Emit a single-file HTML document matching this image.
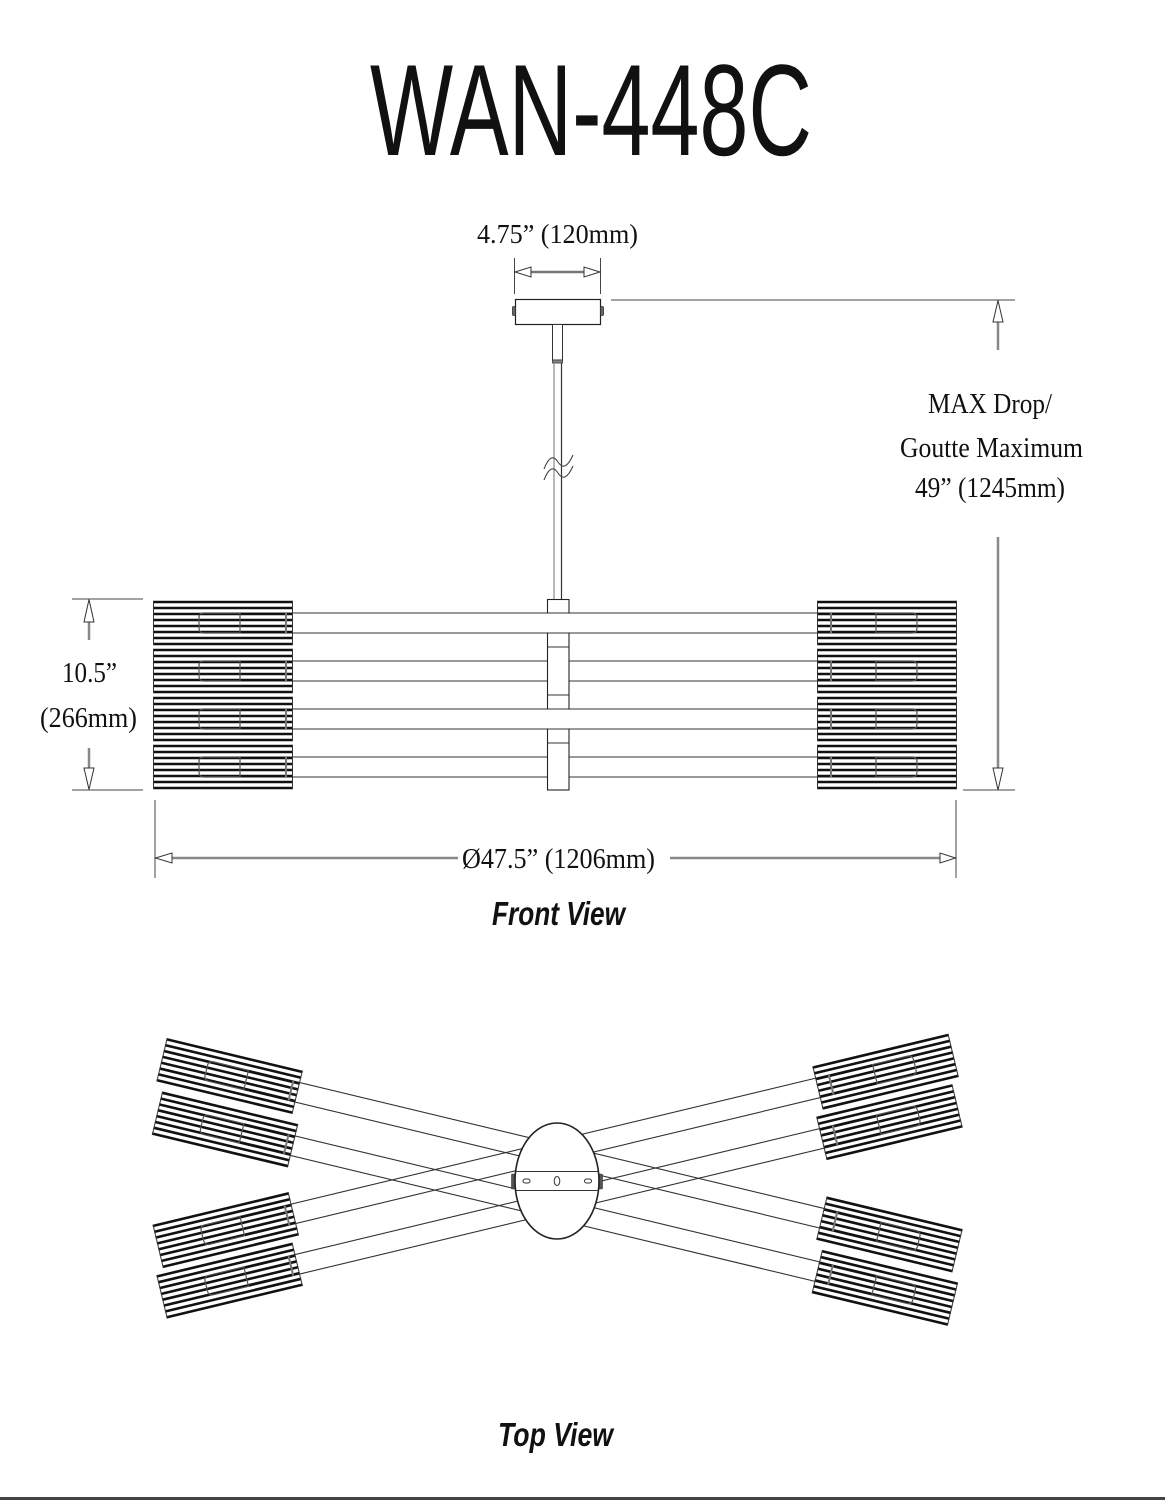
<!DOCTYPE html>
<html><head><meta charset="utf-8"><style>
html,body{margin:0;padding:0;background:#fff;}
svg{display:block;}
.serif{font-family:"Liberation Serif","Times New Roman",serif;fill:#111;}
.sans{font-family:"Liberation Sans",Arial,sans-serif;fill:#111;}
</style></head><body>
<svg width="1165" height="1500" viewBox="0 0 1165 1500" xmlns="http://www.w3.org/2000/svg">
<defs>
  <g id="sl" stroke="#111" stroke-width="2.6">
    <line x1="0" y1="1" x2="140" y2="1"/>
    <line x1="0" y1="7" x2="140" y2="7"/>
    <line x1="0" y1="13" x2="140" y2="13"/>
    <line x1="0" y1="19" x2="140" y2="19"/>
    <line x1="0" y1="25" x2="140" y2="25"/>
    <line x1="0" y1="31" x2="140" y2="31"/>
    <line x1="0" y1="37" x2="140" y2="37"/>
    <line x1="0" y1="43" x2="140" y2="43"/>
  </g>
  <g id="shL">
    <use href="#sl"/>
    <path d="M0.5,0 V44 M139.5,0 V44" stroke="#333" stroke-width="1" fill="none"/>
    <path d="M87,12 H51 Q46,12 46,17 V27 Q46,32 51,32 H87 Z" fill="none" stroke="#555" stroke-width="1.2"/>
    <line x1="133" y1="12" x2="133" y2="32" stroke="#777" stroke-width="2"/>
  </g>
  <g id="shR">
    <use href="#sl"/>
    <path d="M0.5,0 V44 M139.5,0 V44" stroke="#333" stroke-width="1" fill="none"/>
    <path d="M59,12 H95 Q100,12 100,17 V27 Q100,32 95,32 H59 Z" fill="none" stroke="#555" stroke-width="1.2"/>
    <line x1="14" y1="12" x2="14" y2="32" stroke="#777" stroke-width="2"/>
  </g>
</defs>

<!-- Title -->
<text class="sans" x="370" y="155" font-size="130" textLength="442" lengthAdjust="spacingAndGlyphs">WAN-448C</text>

<!-- Top dimension 4.75 -->
<text class="serif" x="477" y="243" font-size="27" textLength="161" lengthAdjust="spacingAndGlyphs">4.75” (120mm)</text>
<g stroke="#444" stroke-width="1">
  <line x1="514.5" y1="258" x2="514.5" y2="294"/>
  <line x1="600.5" y1="258" x2="600.5" y2="294"/>
</g>
<line x1="530" y1="272" x2="585" y2="272" stroke="#777" stroke-width="2.5"/>
<polygon points="515,272 531,267 531,277" fill="#fff" stroke="#333" stroke-width="1"/>
<polygon points="600,272 584,267 584,277" fill="#fff" stroke="#333" stroke-width="1"/>

<!-- Canopy & stem -->
<rect x="515.5" y="299.5" width="85" height="25" fill="#fff" stroke="#222" stroke-width="1.2"/>
<rect x="512.5" y="306.5" width="3" height="9" rx="1" fill="#666" stroke="#333" stroke-width="0.8"/>
<rect x="600.5" y="306.5" width="3" height="9" rx="1" fill="#666" stroke="#333" stroke-width="0.8"/>
<rect x="552.5" y="324.5" width="10" height="35.5" fill="#fff" stroke="#333" stroke-width="1"/>
<rect x="552.5" y="360" width="10" height="3" fill="#888" stroke="#333" stroke-width="0.8"/>
<line x1="554" y1="363" x2="554" y2="599" stroke="#888" stroke-width="1.2"/>
<line x1="561.5" y1="363" x2="561.5" y2="599" stroke="#333" stroke-width="1.2"/>
<path d="M544,469 Q551,451 558,462 T573,455" fill="none" stroke="#444" stroke-width="1.1"/>
<path d="M544,480 Q551,462 558,473 T573,466" fill="none" stroke="#444" stroke-width="1.1"/>

<!-- Right MAX drop dimension -->
<line x1="611" y1="300" x2="1015" y2="300" stroke="#444" stroke-width="1"/>
<line x1="998" y1="322" x2="998" y2="350" stroke="#888" stroke-width="2.5"/>
<polygon points="998,300.5 993,322 1003,322" fill="#fff" stroke="#333" stroke-width="1"/>
<line x1="998" y1="537" x2="998" y2="768" stroke="#888" stroke-width="2.5"/>
<polygon points="998,790 993,768 1003,768" fill="#fff" stroke="#333" stroke-width="1"/>
<line x1="963" y1="790" x2="1015" y2="790" stroke="#444" stroke-width="1"/>
<text class="serif" x="928" y="413" font-size="28" textLength="124" lengthAdjust="spacingAndGlyphs">MAX Drop/</text>
<text class="serif" x="900" y="457" font-size="28" textLength="183" lengthAdjust="spacingAndGlyphs">Goutte Maximum</text>
<text class="serif" x="915" y="497" font-size="28" textLength="150" lengthAdjust="spacingAndGlyphs">49” (1245mm)</text>

<!-- Left 10.5 dimension -->
<g stroke="#444" stroke-width="1">
  <line x1="72" y1="599" x2="143" y2="599"/>
  <line x1="72" y1="790" x2="143" y2="790"/>
</g>
<line x1="89" y1="622" x2="89" y2="640" stroke="#888" stroke-width="2.5"/>
<polygon points="89,599.5 84,622 94,622" fill="#fff" stroke="#333" stroke-width="1"/>
<line x1="89" y1="748" x2="89" y2="768" stroke="#888" stroke-width="2.5"/>
<polygon points="89,789.5 84,768 94,768" fill="#fff" stroke="#333" stroke-width="1"/>
<text class="serif" x="62" y="682" font-size="28" textLength="55" lengthAdjust="spacingAndGlyphs">10.5”</text>
<text class="serif" x="40" y="727" font-size="28" textLength="97" lengthAdjust="spacingAndGlyphs">(266mm)</text>

<!-- Front view arms 2 & 4 (behind hub) -->
<g stroke="#333" stroke-width="1.1">
  <line x1="240" y1="661" x2="876" y2="661"/>
  <line x1="240" y1="681" x2="876" y2="681"/>
  <line x1="240" y1="757" x2="876" y2="757"/>
  <line x1="240" y1="777" x2="876" y2="777"/>
</g>
<!-- Hub -->
<rect x="547.5" y="599.5" width="21.5" height="190.5" fill="#fff" stroke="#222" stroke-width="1.1"/>
<g stroke="#333" stroke-width="1">
  <line x1="547.5" y1="647" x2="569" y2="647"/>
  <line x1="547.5" y1="695" x2="569" y2="695"/>
  <line x1="547.5" y1="743" x2="569" y2="743"/>
</g>
<rect x="546" y="613.6" width="24.5" height="18.8" fill="#fff"/>
<rect x="546" y="709.6" width="24.5" height="18.8" fill="#fff"/>
<!-- Arms 1 & 3 (in front) -->
<g stroke="#333" stroke-width="1.1">
  <line x1="240" y1="613" x2="876" y2="613"/>
  <line x1="240" y1="633" x2="876" y2="633"/>
  <line x1="240" y1="709" x2="876" y2="709"/>
  <line x1="240" y1="729" x2="876" y2="729"/>
</g>

<!-- Front shades -->
<use href="#shL" x="153" y="601"/>
<use href="#shL" x="153" y="649"/>
<use href="#shL" x="153" y="697"/>
<use href="#shL" x="153" y="745"/>
<use href="#shR" x="817" y="601"/>
<use href="#shR" x="817" y="649"/>
<use href="#shR" x="817" y="697"/>
<use href="#shR" x="817" y="745"/>

<!-- Bottom diameter dimension -->
<g stroke="#444" stroke-width="1">
  <line x1="155" y1="800" x2="155" y2="878"/>
  <line x1="956" y1="800" x2="956" y2="878"/>
</g>
<line x1="171" y1="858" x2="458" y2="858" stroke="#888" stroke-width="2.5"/>
<line x1="670" y1="858" x2="941" y2="858" stroke="#888" stroke-width="2.5"/>
<polygon points="155.5,858 172,853 172,863" fill="#fff" stroke="#333" stroke-width="1"/>
<polygon points="955.5,858 940,853 940,863" fill="#fff" stroke="#333" stroke-width="1"/>
<text class="serif" x="462" y="868" font-size="28" textLength="193" lengthAdjust="spacingAndGlyphs">Ø47.5” (1206mm)</text>

<text class="sans" x="492" y="925" font-size="33" font-weight="bold" font-style="italic" textLength="133" lengthAdjust="spacingAndGlyphs">Front View</text>

<!-- Top view: "\" arms -->
<g transform="translate(166.7,1038.3) rotate(13.5)">
  <g stroke="#333" stroke-width="1.1">
    <line x1="87" y1="12" x2="737.6" y2="12"/>
    <line x1="87" y1="32" x2="737.6" y2="32"/>
    <line x1="95" y1="65" x2="745.6" y2="65"/>
    <line x1="95" y1="85" x2="745.6" y2="85"/>
  </g>
  <use href="#shL" x="0" y="0"/>
  <use href="#shL" x="8" y="53"/>
  <use href="#shR" x="678.6" y="0"/>
  <use href="#shR" x="686.6" y="53"/>
</g>
<!-- Top view: "/" arms -->
<g transform="translate(166.7,1318.3) scale(1,-1) rotate(13.5)">
  <g stroke="#333" stroke-width="1.1">
    <line x1="87" y1="12" x2="737.6" y2="12"/>
    <line x1="87" y1="32" x2="737.6" y2="32"/>
    <line x1="95" y1="62" x2="745.6" y2="62"/>
    <line x1="95" y1="82" x2="745.6" y2="82"/>
  </g>
  <use href="#shL" x="0" y="0"/>
  <use href="#shL" x="8" y="50"/>
  <use href="#shR" x="678.6" y="0"/>
  <use href="#shR" x="686.6" y="50"/>
</g>

<!-- Top view center -->
<rect x="511.5" y="1174" width="4" height="15" rx="1" fill="#555" stroke="#333" stroke-width="0.6"/>
<rect x="598.5" y="1174" width="4" height="15" rx="1" fill="#555" stroke="#333" stroke-width="0.6"/>
<ellipse cx="557" cy="1181" rx="42" ry="58" fill="#fff" stroke="#222" stroke-width="1.6"/>
<line x1="515.6" y1="1171.5" x2="598.4" y2="1171.5" stroke="#333" stroke-width="1.1"/>
<line x1="515.6" y1="1190.5" x2="598.4" y2="1190.5" stroke="#333" stroke-width="1.1"/>
<rect x="523" y="1179" width="7" height="4" rx="2" fill="none" stroke="#333" stroke-width="1"/>
<rect x="584.5" y="1179" width="7" height="4" rx="2" fill="none" stroke="#333" stroke-width="1"/>
<ellipse cx="557" cy="1181" rx="2.8" ry="4.5" fill="none" stroke="#333" stroke-width="1"/>

<text class="sans" x="498" y="1446" font-size="33" font-weight="bold" font-style="italic" textLength="115" lengthAdjust="spacingAndGlyphs">Top View</text>

<!-- bottom rule -->
<rect x="0" y="1497" width="1165" height="3" fill="#444"/>
</svg>
</body></html>
